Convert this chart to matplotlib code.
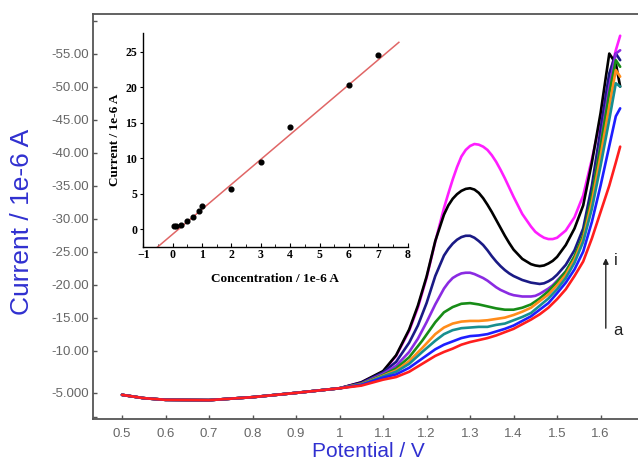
import matplotlib
matplotlib.use('Agg')
import matplotlib.pyplot as plt

# ---------------- data ----------------
# coarse potential grid (curves a-e)
potential = [0.50, 0.55, 0.60, 0.70, 0.80, 0.90, 1.00, 1.05, 1.10, 1.13, 1.16, 1.19,
             1.22, 1.24, 1.26, 1.28, 1.30, 1.32, 1.34, 1.36, 1.38, 1.40, 1.42, 1.44,
             1.46, 1.48, 1.50, 1.52, 1.54, 1.56, 1.58, 1.60, 1.62, 1.635, 1.645]
# finer potential grid (curves f-i, which have pronounced peaks)
potential_fine = [0.50, 0.55, 0.60, 0.70, 0.80, 0.90, 1.00, 1.05, 1.10, 1.13, 1.16, 1.18,
                  1.20, 1.22, 1.24, 1.25, 1.26, 1.27, 1.28, 1.29, 1.30, 1.31, 1.32, 1.33,
                  1.34, 1.35, 1.36, 1.37, 1.38, 1.39, 1.40, 1.42, 1.44, 1.45, 1.46, 1.47,
                  1.48, 1.49, 1.50, 1.52, 1.54, 1.56, 1.58, 1.60, 1.62, 1.635, 1.645]

base = [-3.3, -2.8, -2.55, -2.5, -2.95, -3.6, -4.3]

cur_a = base + [-4.7, -5.6, -6.0, -6.8, -8.0, -9.2, -9.8, -10.3, -10.9, -11.3, -11.6, -11.9,
                -12.3, -12.8, -13.3, -14.0, -14.7, -15.5, -16.5, -17.8, -19.3, -21.3, -23.5,
                -27.0, -31.0, -35.0, -38.5, -40.9]
cur_b = base + [-4.8, -5.9, -6.4, -7.4, -8.8, -10.2, -10.9, -11.4, -11.9, -12.2, -12.3, -12.5,
                -12.9, -13.3, -13.8, -14.5, -15.2, -16.2, -17.2, -18.7, -20.3, -22.3, -25.0,
                -29.5, -35.0, -41.0, -45.5, -46.7]
cur_c = base + [-4.85, -6.1, -6.8, -8.0, -9.8, -11.5, -12.5, -13.1, -13.4, -13.5, -13.6, -13.6,
                -13.9, -14.1, -14.6, -15.1, -15.7, -16.8, -17.9, -19.3, -21.0, -23.3, -26.5,
                -31.5, -38.0, -45.0, -50.5, -50.0]
cur_d = base + [-4.9, -6.2, -7.0, -8.4, -10.4, -12.5, -13.5, -14.1, -14.4, -14.5, -14.5, -14.6,
                -14.8, -15.0, -15.4, -15.9, -16.5, -17.5, -18.5, -19.9, -21.5, -23.8, -27.0,
                -32.5, -39.5, -47.0, -52.5, -51.5]
cur_e = base + [-4.95, -6.3, -7.3, -9.0, -11.5, -14.3, -15.8, -16.6, -17.1, -17.2, -17.0, -16.7,
                -16.4, -16.2, -16.2, -16.5, -17.0, -17.9, -19.0, -20.4, -22.0, -24.3, -27.5,
                -33.5, -41.0, -49.0, -54.0, -53.0]
cur_f = base + [-5.0, -6.5, -7.7, -9.8, -11.8, -14.3, -17.0, -19.4, -20.3, -21.0, -21.4,
                -21.7, -21.8, -21.8, -21.6, -21.3, -21.0, -20.6, -20.1, -19.6, -19.2, -18.9,
                -18.6, -18.4, -18.2, -18.2, -18.3, -18.6, -19.0, -19.4, -19.9, -20.6, -22.0,
                -24.0, -27.0, -33.0, -41.5, -50.0, -55.0, -55.5]
cur_g = base + [-5.1, -6.7, -8.3, -11.2, -13.8, -17.2, -21.3, -24.4, -25.4, -26.2, -26.8,
                -27.2, -27.4, -27.4, -27.1, -26.6, -26.0, -25.2, -24.3, -23.5, -22.8, -22.2,
                -21.7, -21.3, -20.7, -20.3, -20.2, -20.1, -20.2, -20.5, -20.9, -21.5, -23.0,
                -25.2, -28.5, -35.0, -43.5, -52.0, -55.0, -54.0]
cur_h = base + [-5.2, -6.9, -9.3, -13.2, -16.8, -21.2, -26.6, -30.6, -32.0, -33.0, -33.7,
                -34.2, -34.5, -34.6, -34.4, -33.9, -33.1, -32.1, -31.0, -29.8, -28.6, -27.4,
                -26.3, -25.3, -23.9, -23.1, -22.9, -22.8, -22.9, -23.2, -23.6, -24.2, -26.0,
                -28.5, -32.0, -38.5, -46.0, -55.0, -53.5, -50.0]
cur_i = base + [-5.2, -6.8, -9.2, -13.0, -16.5, -21.0, -26.5, -31.6, -33.8, -35.9, -37.8,
                -39.4, -40.4, -41.0, -41.3, -41.2, -40.9, -40.4, -39.6, -38.6, -37.4, -36.1,
                -34.7, -33.3, -30.7, -28.8, -28.0, -27.5, -27.1, -26.9, -26.9, -27.1, -28.2,
                -30.2, -33.5, -39.0, -45.0, -51.5, -55.5, -57.7]

curve_colors = ['#ff1e1e', '#1e1eff', '#178f8f', '#ff8c1a', '#178c17',
                '#8a2be2', '#1a1a85', '#000000', '#ff1eff']

x_ticks = [0.5, 0.6, 0.7, 0.8, 0.9, 1.0, 1.1, 1.2, 1.3, 1.4, 1.5, 1.6]
x_ticklabels = ['0.5', '0.6', '0.7', '0.8', '0.9', '1', '1.1', '1.2', '1.3', '1.4', '1.5', '1.6']
y_ticks = [-60, -55, -50, -45, -40, -35, -30, -25, -20, -15, -10, -3.6, 0]
y_ticklabels = ['', '-55.00', '-50.00', '-45.00', '-40.00', '-35.00', '-30.00', '-25.00',
                '-20.00', '-15.00', '-10.00', '-5.000', '']

# inset calibration data
conc = [0.05, 0.1, 0.3, 0.5, 0.7, 0.9, 1.0, 2.0, 3.0, 4.0, 6.0, 7.0]
peak_current = [0.5, 0.45, 0.6, 1.17, 1.78, 2.58, 3.33, 5.68, 9.53, 14.46, 20.33, 24.55]
fit_x = [-0.55, 7.7]
fit_y = [-2.62, 26.33]
inset_x_ticks = [-1, 0, 1, 2, 3, 4, 5, 6, 7, 8]
inset_y_ticks = [0, 5, 10, 15, 20, 25]

# ---------------- figure ----------------
plt.rcParams['font.family'] = ['Liberation Sans', 'DejaVu Sans']
fig = plt.figure(figsize=(6.38, 4.65), dpi=100)
ax = fig.add_axes([0.1453, 0.0983, 0.8547, 0.8717])

curves = [(potential, cur_a), (potential, cur_b), (potential, cur_c), (potential, cur_d),
          (potential, cur_e), (potential_fine, cur_f), (potential_fine, cur_g),
          (potential_fine, cur_h), (potential_fine, cur_i)]
for k, ((xv, cv), col) in enumerate(zip(curves, curve_colors)):
    ax.plot(xv, cv, color=col, lw=1.9, solid_capstyle='round',
            solid_joinstyle='round', zorder=10 - k)

ax.set_xlim(0.4326, 1.686)
ax.set_ylim(0.4, -61.0)
ax.set_xticks(x_ticks)
ax.set_xticklabels(x_ticklabels)
ax.set_yticks(y_ticks)
ax.set_yticklabels(y_ticklabels)
ax.tick_params(direction='in', length=3, width=1, colors='#555555',
               labelcolor='#666666', labelsize=9.5)
ax.tick_params(axis='y', pad=2.5)
ax.tick_params(axis='x', pad=6)
for s in ['left', 'bottom', 'top']:
    ax.spines[s].set_color('#555555')
    ax.spines[s].set_linewidth(1.3)
ax.spines['right'].set_visible(False)

fig.text(0.034, 0.523, 'Current / 1e-6 A', rotation=90, ha='center', va='center',
         color='#3030d0', fontsize=19)
fig.text(0.578, 0.028, 'Potential / V', ha='center', va='center',
         color='#3030d0', fontsize=15)

# arrow a -> i
ax.annotate('', xy=(1.612, -24.0), xytext=(1.612, -13.4),
            arrowprops=dict(arrowstyle='-|>', color='#222222', lw=1.0,
                            mutation_scale=8, shrinkA=0, shrinkB=0))
ax.text(1.630, -23.6, 'i', fontsize=12, color='#222222', va='center', ha='left')
ax.text(1.628, -13.0, 'a', fontsize=12, color='#222222', va='center', ha='left')

# ---------------- inset ----------------
serif = ['Liberation Serif', 'DejaVu Serif']
axin = fig.add_axes([0.2246, 0.4695, 0.4144, 0.4589])
axin.plot(fit_x, fit_y, color='#e06666', lw=1.1)
axin.plot(conc, peak_current, 'o', color='black', ms=3.4)
axin.set_xlim(-1, 8)
axin.set_ylim(-2.45, 27.6)
axin.set_xticks(inset_x_ticks)
axin.set_yticks(inset_y_ticks)
axin.set_xticks([v + 0.5 for v in inset_x_ticks[:-1]], minor=True)
axin.spines['top'].set_visible(False)
axin.spines['right'].set_visible(False)
for s in ['left', 'bottom']:
    axin.spines[s].set_linewidth(1.0)
axin.tick_params(axis='x', which='both', direction='in', length=3)
axin.tick_params(axis='x', which='minor', length=2)
axin.tick_params(axis='y', direction='out', length=2.5)
axin.tick_params(labelsize=8.5, pad=2)
for lab in axin.get_xticklabels() + axin.get_yticklabels():
    lab.set_family(serif)
    lab.set_fontweight('bold')
axin.set_xlabel('Concentration / 1e-6 A', family=serif, fontweight='bold',
                fontsize=9.5, labelpad=8)
axin.set_ylabel('Current / 1e-6 A', family=serif, fontweight='bold',
                fontsize=9.5, labelpad=3)

fig.savefig('out.png', dpi=100)
